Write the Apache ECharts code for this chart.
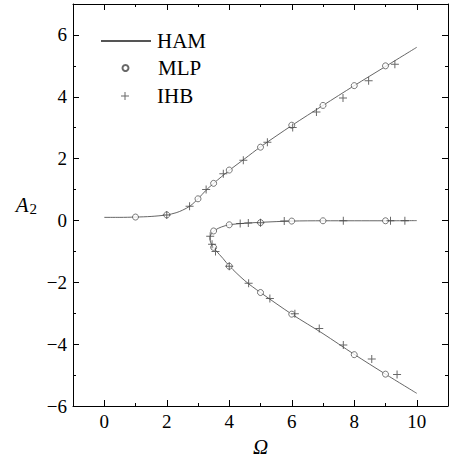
<!DOCTYPE html>
<html>
<head>
<meta charset="utf-8">
<script src="https://cdn.jsdelivr.net/npm/echarts@6/dist/echarts.min.js"></script>
<style>
    html, body { margin: 0; padding: 0; background: #fff; }
    #container { width: 456px; height: 462px; }
</style>
</head>
<body>
<div id="container"></div>
<script type="text/javascript">
    // HAM curve, upper branch (Omega, A2)
    var hamUpper = [
        [0, 0.10], [0.5, 0.10], [1, 0.11], [1.5, 0.13], [2, 0.18], [2.3, 0.25],
        [2.5, 0.33], [2.75, 0.47], [3, 0.70], [3.25, 0.97], [3.5, 1.20], [4, 1.62],
        [4.5, 2.00], [5, 2.38], [6, 3.07], [7, 3.72], [8, 4.36], [9, 4.98], [10, 5.60]
    ];
    // HAM curve, lower branches (one curve going round the turning point)
    var hamLower = [
        [10, -0.005], [9, -0.01], [8, -0.01], [7, -0.01], [6, -0.02], [5, -0.06],
        [4.5, -0.09], [4, -0.14], [3.75, -0.21], [3.55, -0.31], [3.44, -0.42],
        [3.38, -0.55], [3.40, -0.70], [3.47, -0.83], [3.58, -0.98], [3.8, -1.23],
        [4, -1.47], [4.5, -1.95], [5, -2.33], [6, -3.03], [7, -3.66], [8, -4.33],
        [9, -4.97], [10, -5.59]
    ];
    // MLP results (circles)
    var mlp = [
        [1, 0.11], [2, 0.18], [3, 0.70], [3.5, 1.20], [4, 1.63], [5, 2.37], [6, 3.08],
        [7, 3.72], [8, 4.36], [9, 5.00],
        [3.5, -0.34], [4, -0.14], [5, -0.07], [6, -0.02], [7, -0.01], [9, -0.01],
        [3.5, -0.87], [4, -1.48], [5, -2.33], [6, -3.03], [8, -4.34], [9, -4.97]
    ];
    // IHB results (plus signs)
    var ihb = [
        [2, 0.18], [2.73, 0.46], [3.26, 1.00], [3.81, 1.51], [4.45, 1.95], [5.22, 2.53],
        [6.03, 3.01], [6.79, 3.51], [7.64, 3.96], [8.46, 4.52], [9.30, 5.05],
        [4.35, -0.10], [4.61, -0.08], [5, -0.07], [5.76, -0.02], [7.65, -0.01],
        [9.16, -0.01], [9.62, -0.01],
        [3.39, -0.51], [3.45, -0.77], [3.56, -1.00],
        [4, -1.48], [4.62, -2.03], [5.30, -2.52], [6.10, -3.02], [6.88, -3.49],
        [7.65, -4.03], [8.56, -4.48], [9.37, -4.98]
    ];

    var FONT = 'Liberation Serif';
    var plusPath = 'path://M3.5,0 H4.5 V3.5 H8 V4.5 H4.5 V8 H3.5 V4.5 H0 V3.5 H3.5 Z';
    var minusFmt = function (v) { return v < 0 ? '\u2212' + (-v) : String(v); };

    var axisCommon = {
        axisLine: { show: true, onZero: false, lineStyle: { color: '#000', width: 1 } },
        axisTick: { show: true, inside: true, length: 6, lineStyle: { color: '#000' } },
        minorTick: { show: true, splitNumber: 2, length: 3, lineStyle: { color: '#000' } },
        splitLine: { show: false }
    };

    var option = {
        animation: false,
        textStyle: { fontFamily: FONT },
        grid: { left: 73, right: 8, top: 4, bottom: 50 },
        legend: [
            {
                data: ['HAM'], left: 95, top: 25, itemWidth: 50, itemHeight: 14,
                itemStyle: { color: 'rgba(0,0,0,0)', borderColor: 'rgba(0,0,0,0)', borderWidth: 0 },
                textStyle: { fontFamily: FONT, fontSize: 21, color: '#000', lineHeight: 22, padding: [0, 0, 0, 1] }
            },
            {
                data: ['MLP'], left: 116.5, top: 52, itemWidth: 6, itemHeight: 6,
                textStyle: { fontFamily: FONT, fontSize: 21, color: '#000', lineHeight: 22, padding: [0, 0, 0, 24.5] }
            },
            {
                data: ['IHB'], left: 116, top: 80, itemWidth: 8, itemHeight: 8,
                textStyle: { fontFamily: FONT, fontSize: 21, color: '#000', lineHeight: 22, padding: [0, 0, 0, 23] }
            }
        ],
        xAxis: [
            Object.assign({
                type: 'value', min: -1, max: 11, splitNumber: 6,
                name: '\u03A9', nameLocation: 'middle', nameGap: 30,
                nameTextStyle: { fontFamily: FONT, fontSize: 21, fontStyle: 'italic', color: '#000' },
                axisLabel: {
                    fontFamily: FONT, fontSize: 19, color: '#000', margin: 6,
                    showMinLabel: false, showMaxLabel: false, formatter: minusFmt
                }
            }, axisCommon),
            Object.assign({
                type: 'value', min: -1, max: 11, splitNumber: 6, position: 'top',
                axisLabel: { show: false }
            }, axisCommon)
        ],
        yAxis: [
            Object.assign({
                type: 'value', min: -6, max: 7, interval: 2,
                name: '{a|A}{s|2}', nameLocation: 'middle', nameGap: 36, nameRotate: 0,
                nameTextStyle: {
                    rich: {
                        a: { fontFamily: FONT, fontSize: 21, fontStyle: 'italic', color: '#000' },
                        s: { fontFamily: FONT, fontSize: 15, color: '#000', verticalAlign: 'bottom', padding: [8, 0, 0, 1] }
                    }
                },
                axisLabel: {
                    fontFamily: FONT, fontSize: 19, color: '#000', margin: 6,
                    showMaxLabel: false, formatter: minusFmt
                }
            }, axisCommon),
            Object.assign({
                type: 'value', min: -6, max: 7, interval: 2, position: 'right',
                axisLabel: { show: false }
            }, axisCommon)
        ],
        series: [
            {
                name: 'HAM', type: 'line', data: hamUpper, symbol: 'none', smooth: 0.3,
                lineStyle: { color: '#555', width: 0.9 }, itemStyle: { color: '#555' }, z: 2
            },
            {
                name: 'HAM', type: 'line', data: hamLower, symbol: 'none', smooth: 0.3,
                lineStyle: { color: '#555', width: 0.9 }, itemStyle: { color: '#555' }, z: 2
            },
            {
                name: 'MLP', type: 'scatter', data: mlp, symbol: 'circle', symbolSize: 6,
                itemStyle: { color: '#fff', borderColor: '#444', borderWidth: 0.9 }, z: 3
            },
            {
                name: 'IHB', type: 'scatter', data: ihb, symbol: plusPath, symbolSize: 8,
                itemStyle: { color: '#444' }, z: 4
            }
        ]
    };

    // svg renderer: the legend text keeps its serif face this way
    var myChart = echarts.init(document.getElementById("container"), null, { renderer: 'svg' });
    if (option && typeof option === 'object') {
        myChart.setOption(option);
    }
</script>
</body>
</html>
